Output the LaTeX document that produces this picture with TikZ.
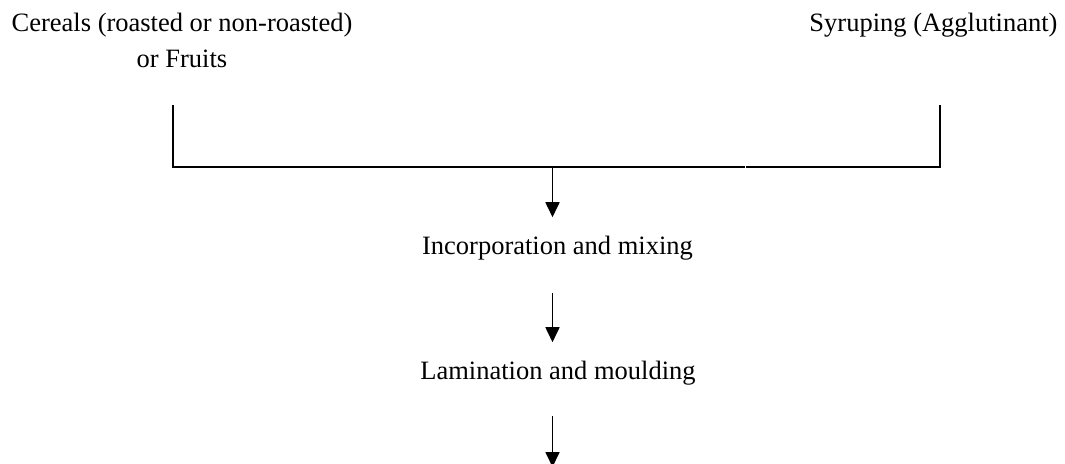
\documentclass[tikz,border=0pt]{standalone}
\usepackage{fontspec}
\setmainfont{Liberation Serif}
\usetikzlibrary{arrows.meta}
\begin{document}
\begin{tikzpicture}[x=0.5pt,y=-0.5pt,
  lbl/.style={font=\fontsize{13.25}{18}\selectfont, inner sep=0pt, align=center, anchor=base},
  wire/.style={line width=0.85pt},
  arr/.style={wire, -{Triangle[length=7.5pt,width=7pt]}}]
\useasboundingbox (0,0) rectangle (1065,463);

% inputs (a two-line node sits on the baseline of its last line)
\node[lbl] (cereal) at (182,67) {Cereals (roasted or non-roasted)\\or Fruits};
\node[lbl] (syrup) at (933.5,31) {Syruping (Agglutinant)};

% process steps
\node[lbl] (mix) at (557.5,254) {Incorporation and mixing};
\node[lbl] (lam) at (558,379) {Lamination and moulding};

% joining bracket
\coordinate (lt) at (173,105);
\coordinate (lb) at (173,167);
\coordinate (rt) at (940,105);
\coordinate (rb) at (940,167);
\coordinate (g1) at (745,167);
\coordinate (g2) at (746,167);
\coordinate (j) at (552.5,167);
\coordinate (out) at (552.5,467);

\draw[wire] (lt) -- (lb) -- (g1);
\draw[wire] (rt) -- (rb) -- (g2);

% flow arrows
\draw[arr, shorten >=9pt] (j) -- (j |- mix.north);
\draw[arr, shorten <=16.5pt, shorten >=9pt] (j |- mix.south) -- (j |- lam.north);
\draw[arr, shorten <=15.5pt] (j |- lam.south) -- (out);
\end{tikzpicture}
\end{document}
